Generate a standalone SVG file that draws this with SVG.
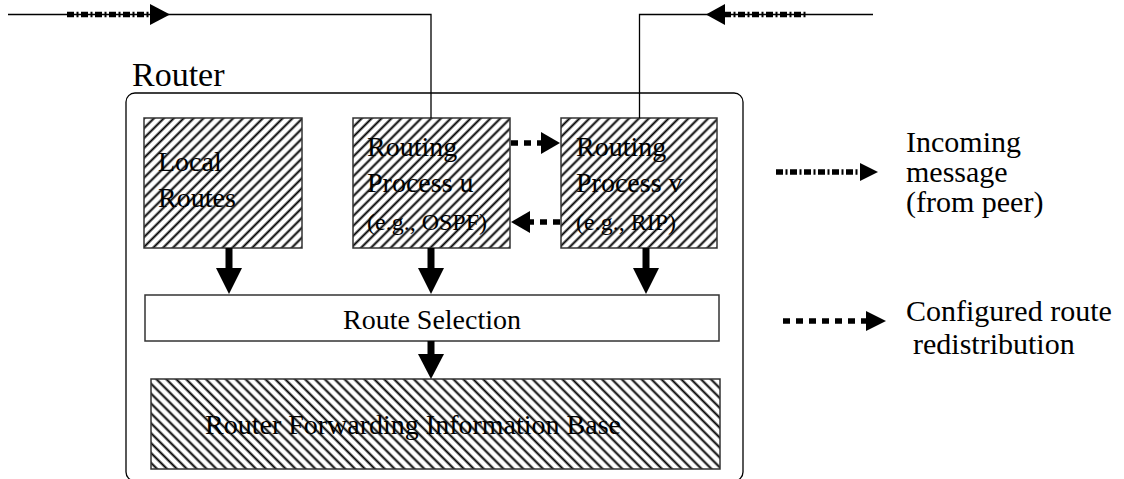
<svg xmlns="http://www.w3.org/2000/svg" width="1124" height="479" viewBox="0 0 1124 479">
<style>
text{font-family:"Liberation Serif","Times New Roman",serif;fill:#000}
.t28{font-size:28px}
.t24{font-size:24px}
.t30{font-size:30px}
.thin{stroke:#000;stroke-width:1.3;fill:none}
.box{stroke:#333;stroke-width:1.5}
.stem{stroke:#000;stroke-width:7}
.dd{stroke:#000;stroke-width:5.5;stroke-dasharray:7 2.5 2 2.5;fill:none}
.dash{stroke:#000;stroke-width:5.5;stroke-dasharray:7 6;fill:none}
</style>
<defs>
<pattern id="hatchF" width="7" height="7" patternUnits="userSpaceOnUse" patternTransform="rotate(45)">
<rect width="7" height="7" fill="#fff"/>
<line x1="3.5" y1="0" x2="3.5" y2="7" stroke="#000" stroke-width="2"/>
</pattern>
<pattern id="hatchB" width="7" height="7" patternUnits="userSpaceOnUse" patternTransform="rotate(-45)">
<rect width="7" height="7" fill="#fff"/>
<line x1="3.5" y1="0" x2="3.5" y2="7" stroke="#000" stroke-width="2"/>
</pattern>
</defs>
<rect width="1124" height="479" fill="#fff"/>

<g id="router">
<rect x="126" y="93" width="617" height="388" rx="9" ry="9" class="thin"/>
<text x="132" y="86" style="font-size:34px">Router</text>
</g>

<g id="local-routes">
<rect x="144" y="118" width="158" height="130" fill="url(#hatchF)" class="box"/>
<text class="t28" x="158" y="171">Local</text>
<text class="t28" x="158" y="207">Routes</text>
</g>

<g id="process-u">
<rect x="353" y="118" width="157" height="130" fill="url(#hatchF)" class="box"/>
<text class="t28" x="367" y="156">Routing</text>
<text class="t28" x="367" y="192">Process u</text>
<text class="t24" x="367" y="230">(e.g., OSPF)</text>
</g>

<g id="process-v">
<rect x="561" y="118" width="156" height="130" fill="url(#hatchF)" class="box"/>
<text class="t28" x="576" y="156">Routing</text>
<text class="t28" x="576" y="192">Process v</text>
<text class="t24" x="576" y="230">(e.g., RIP)</text>
</g>

<g id="route-selection">
<rect x="145" y="295" width="574" height="46" fill="#fff" class="box"/>
<text class="t28" x="432" y="329" text-anchor="middle">Route Selection</text>
</g>

<g id="fib">
<rect x="151" y="379" width="569" height="90" fill="url(#hatchB)" class="box"/>
<text class="t28" x="205" y="434">Router Forwarding Information Base</text>
</g>

<g id="legend">
<line x1="776" y1="172" x2="861" y2="172" class="dd"/>
<polygon points="860,163 878,172 860,181"/>
<text class="t30" x="906" y="152">Incoming</text>
<text class="t30" x="906" y="182">message</text>
<text class="t30" x="906" y="212">(from peer)</text>
<line x1="783" y1="321" x2="867" y2="321" class="dash"/>
<polygon points="866,311 886,321 866,331"/>
<text class="t30" x="906" y="321">Configured route</text>
<text class="t30" x="913" y="354">redistribution</text>
</g>

<g id="connectors">
<polyline points="8,14.5 431,14.5 431,118" class="thin"/>
<line x1="67" y1="14.5" x2="151" y2="14.5" class="dd"/>
<polygon points="150,4 170,14.5 150,25"/>
<polyline points="873,14.5 639.5,14.5 639.5,118" class="thin"/>
<line x1="724" y1="14.5" x2="808" y2="14.5" class="dd"/>
<polygon points="725,4 706,14.5 725,25"/>
<line x1="511" y1="143" x2="542" y2="143" class="dash"/>
<polygon points="541,132 560,143 541,154"/>
<line x1="560" y1="222" x2="529" y2="222" class="dash"/>
<polygon points="530,211 511,222 530,233"/>
<line x1="229" y1="248" x2="229" y2="270" class="stem"/>
<polygon points="216,268 242,268 229,294"/>
<line x1="431" y1="248" x2="431" y2="270" class="stem"/>
<polygon points="418,268 444,268 431,294"/>
<line x1="646" y1="248" x2="646" y2="270" class="stem"/>
<polygon points="633,268 659,268 646,294"/>
<line x1="431" y1="341" x2="431" y2="356" class="stem"/>
<polygon points="418,354 444,354 431,379"/>
</g>
</svg>
